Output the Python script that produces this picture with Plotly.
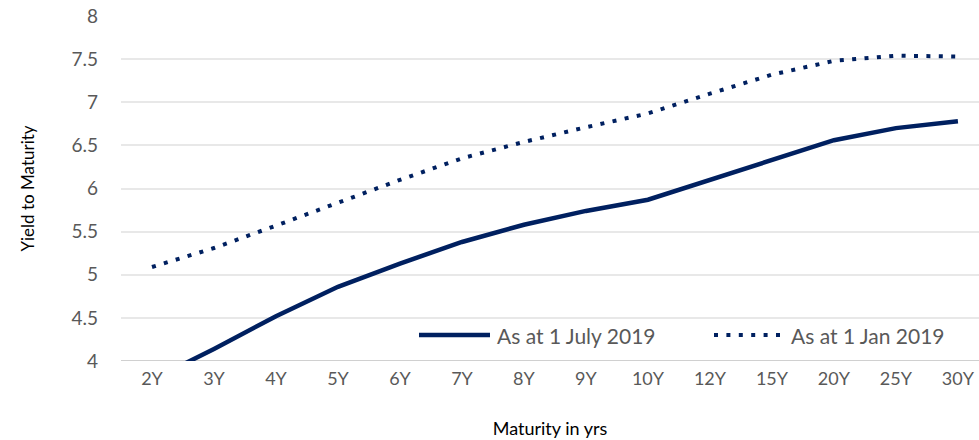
import plotly.graph_objects as go

maturities = ["2Y", "3Y", "4Y", "5Y", "6Y", "7Y", "8Y", "9Y", "10Y", "12Y", "15Y", "20Y", "25Y", "30Y"]
july_2019 = [3.78, 4.14, 4.52, 4.86, 5.13, 5.38, 5.58, 5.74, 5.87, 6.10, 6.34, 6.56, 6.70, 6.78]
jan_2019 = [5.09, 5.31, 5.57, 5.84, 6.10, 6.35, 6.54, 6.71, 6.87, 7.10, 7.32, 7.48, 7.54, 7.53]
y_ticks = [4, 4.5, 5, 5.5, 6, 6.5, 7, 7.5, 8]
series_names = ["As at 1 July 2019", "As at 1 Jan 2019"]

navy = "#002060"
font_family = "Lato, 'Open Sans', sans-serif"
dot_dash = "4px,8.4px"

fig = go.Figure()
fig.add_trace(go.Scatter(x=maturities, y=july_2019, mode="lines", name=series_names[0],
                         line=dict(color=navy, width=4.5), showlegend=False))
fig.add_trace(go.Scatter(x=maturities, y=jan_2019, mode="lines", name=series_names[1],
                         line=dict(color=navy, width=4, dash=dot_dash), showlegend=False))

# plot area: 121..979 px horizontally, 16..361 px vertically
PL, PR, PT, PB = 121, 979, 16, 361
def px_x(p):
    return (p - PL) / (PR - PL)
def px_y(p):
    return (PB - p) / (PB - PT)

leg_y = px_y(335)
fig.add_shape(type="line", xref="paper", yref="paper", x0=px_x(419), x1=px_x(490), y0=leg_y, y1=leg_y,
              line=dict(color=navy, width=4.5))
fig.add_shape(type="line", xref="paper", yref="paper", x0=px_x(714), x1=px_x(781), y0=leg_y, y1=leg_y,
              line=dict(color=navy, width=4, dash=dot_dash))
fig.add_annotation(text=series_names[0], xref="paper", yref="paper", x=px_x(495), y=leg_y,
                   xanchor="left", yanchor="middle", showarrow=False,
                   font=dict(size=21, color="#595959", family=font_family))
fig.add_annotation(text=series_names[1], xref="paper", yref="paper", x=px_x(789), y=leg_y,
                   xanchor="left", yanchor="middle", showarrow=False,
                   font=dict(size=21, color="#595959", family=font_family))

fig.update_layout(
    width=979, height=440,
    margin=dict(l=PL, r=979 - PR, t=PT, b=440 - PB, autoexpand=False),
    plot_bgcolor="white", paper_bgcolor="white",
    font=dict(family=font_family, size=18, color="#595959"),
    showlegend=False,
)
fig.update_xaxes(
    type="category", range=[-0.5, 13.34], automargin=False,
    showgrid=False, showline=False, zeroline=False,
    ticks="", ticklabelstandoff=5, tickfont=dict(size=18, color="#595959"),
    title=dict(text="Maturity in yrs", font=dict(size=18, color="#000000"), standoff=34),
)
fig.update_yaxes(
    range=[4, 8], tickvals=y_ticks, ticktext=[f"{v:g}" for v in y_ticks], automargin=False,
    showgrid=True, gridcolor="#e8e8e8", gridwidth=1.5,
    zeroline=False, showline=False, ticks="",
    ticklabelstandoff=22,
    tickfont=dict(size=19, color="#595959"),
    title=dict(text="Yield to Maturity", font=dict(size=17, color="#000000"), standoff=32),
)
fig.add_hline(y=4, line=dict(color="#d0d0d0", width=2), layer="below")

fig.write_html("out.html", config={"displayModeBar": False},
               post_script="document.body.style.margin='0';document.body.style.overflow='hidden';")
